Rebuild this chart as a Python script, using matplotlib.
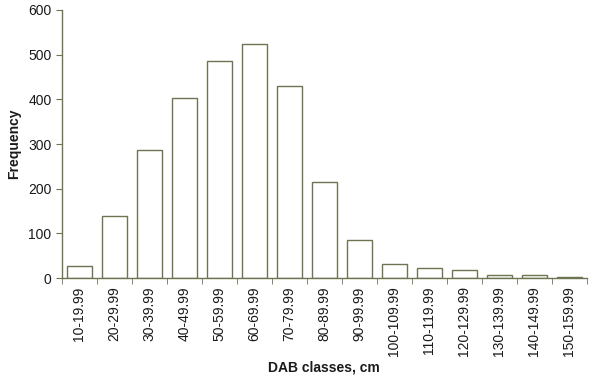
import numpy as np
import matplotlib
matplotlib.use("Agg")
import matplotlib.pyplot as plt
from matplotlib.ticker import FixedLocator

classes = ["10-19.99", "20-29.99", "30-39.99", "40-49.99", "50-59.99",
           "60-69.99", "70-79.99", "80-89.99", "90-99.99", "100-109.99",
           "110-119.99", "120-129.99", "130-139.99", "140-149.99", "150-159.99"]
freq = [27, 139, 287, 402, 485, 523, 430, 216, 86, 31, 23, 19, 6, 6, 2]

plt.rcParams['font.family'] = ['Liberation Sans', 'DejaVu Sans']
line_col = '#6b7550'
text_col = '#1a1a1a'

fig = plt.figure(figsize=(6, 3.84), dpi=100)
ax = fig.add_axes([0.103, 0.276, 0.875, 0.698])

x = np.arange(len(classes))
ax.bar(x, freq, width=0.72, facecolor='white', edgecolor=line_col, linewidth=1.0)

ax.set_xlim(-0.5, len(classes) - 0.5)
ax.set_ylim(0, 600)
ax.set_yticks(range(0, 601, 100))
ax.set_xticks(x)
ax.set_xticklabels(classes, rotation=90, fontsize=10, color=text_col)
ax.tick_params(axis='x', which='major', length=0, pad=6)
ax.xaxis.set_minor_locator(FixedLocator(np.arange(-0.5, len(classes), 1.0)))
ax.tick_params(axis='x', which='minor', length=4, direction='out', color=line_col)
ax.tick_params(axis='y', length=4, direction='out', color=line_col, labelsize=10, labelcolor=text_col)

for s in ['top', 'right']:
    ax.spines[s].set_visible(False)
for s in ['left', 'bottom']:
    ax.spines[s].set_color(line_col)
    ax.spines[s].set_linewidth(1.0)

ax.set_ylabel('Frequency', fontsize=10, fontweight='bold', color=text_col, labelpad=5)
ax.set_xlabel('DAB classes, cm', fontsize=10, fontweight='bold', color=text_col, labelpad=3)

fig.savefig('out.png', dpi=100)
